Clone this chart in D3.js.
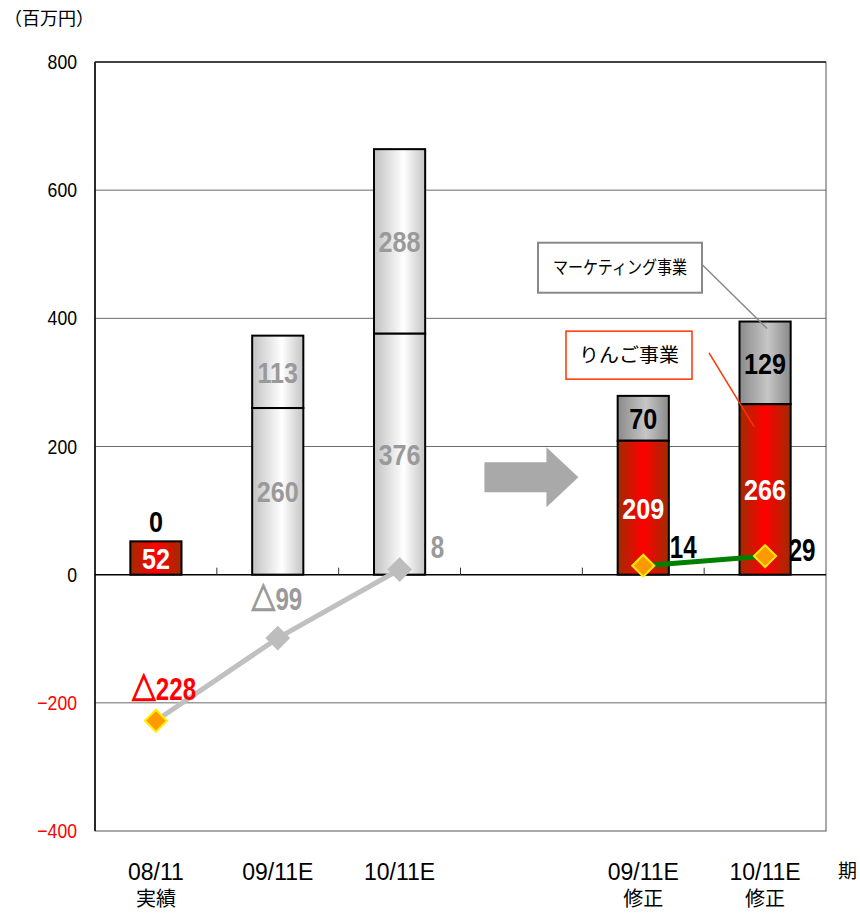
<!DOCTYPE html>
<html>
<head>
<meta charset="utf-8">
<script src="https://cdn.jsdelivr.net/npm/d3@7"></script>
<style>
  html, body { margin: 0; padding: 0; background: #fff; }
  svg { display: block; }
  .num { font-family: "Liberation Sans", Arial, sans-serif; }
  .jp { font-family: "Noto Sans CJK JP", sans-serif; }
</style>
</head>
<body>
<svg id="chart" width="860" height="914"></svg>
<script>
// Fiscal periods (slot 3 is an empty spacer before the revised forecasts)
const categories = ["08/11", "09/11E", "10/11E", "", "09/11E", "10/11E"];
const categoryNotes = ["実績", "", "", "", "修正", "修正"];
// Stacked segments: lower = りんご事業, upper = マーケティング事業
const appleValues = [52, 260, 376, null, 209, 266];
const marketingValues = [0, 113, 288, null, 70, 129];
// Operating profit line
const profitValues = [-228, -99, 8, null, 14, 29];
const profitLabels = ["△228", "△99", "8", "", "14", "29"];
// Bar look per period: actual result, original plan, revised forecast
const barKinds = ["actual", "plan", "plan", null, "revised", "revised"];
const yTicks = [-400, -200, 0, 200, 400, 600, 800];
const yTickLabels = ["−400", "−200", "0", "200", "400", "600", "800"];

const svg = d3.select("#chart");
const plotLeft = 95, plotRight = 826, plotTop = 62, plotBottom = 831;

const x = d3.scaleBand().domain(d3.range(categories.length)).range([plotLeft, plotRight]).padding(0);
const y = d3.scaleLinear().domain([-400, 800]).range([plotBottom, plotTop]);
const bw = x.bandwidth();
const barW = bw * 0.42;
const cx = i => x(i) + bw / 2;

// Condensed text: horizontally squeezed sans
function ntext(parent, px, py, str, o) {
  const fill = o.fill || "#000";
  const t = parent.append("text").attr("class", "num")
    .attr("transform", `translate(${px},${py}) scale(${o.sx || 0.8},1)`)
    .attr("text-anchor", o.anchor || "middle")
    .attr("font-weight", o.weight || "normal")
    .style("font-size", o.size + "px")
    .attr("fill", fill);
  if (str.startsWith("△")) {
    t.append("tspan").attr("class", "jp").attr("font-weight", "bold")
      .attr("stroke", fill).attr("stroke-width", 1.6).text("△");
    t.append("tspan").text(str.slice(1));
  } else {
    t.text(str);
  }
  return t;
}

// Gradients
const defs = svg.append("defs");
function grad(id, stops) {
  const g = defs.append("linearGradient").attr("id", id)
    .attr("x1", "0%").attr("x2", "100%").attr("y1", "0%").attr("y2", "0%");
  stops.forEach(([o, c]) => g.append("stop").attr("offset", o).attr("stop-color", c));
}
grad("gRed", [["0%", "#a02c00"], ["50%", "#ff0000"], ["100%", "#a02c00"]]);
grad("gLight", [["0%", "#c2c2c2"], ["58%", "#ffffff"], ["100%", "#c4c4c4"]]);
grad("gDark", [["0%", "#8a8a8a"], ["55%", "#c6c6c6"], ["100%", "#8a8a8a"]]);

// Gridlines
svg.append("g").selectAll("line")
  .data(yTicks.filter(t => t !== 0 && t !== 800 && t !== -400))
  .join("line")
  .attr("x1", plotLeft).attr("x2", plotRight)
  .attr("y1", d => y(d)).attr("y2", d => y(d))
  .attr("stroke", "#6a6a6a").attr("stroke-width", 1);

// Plot frame
svg.append("rect")
  .attr("x", plotLeft).attr("y", plotTop).attr("width", plotRight - plotLeft).attr("height", plotBottom - plotTop)
  .attr("fill", "none").attr("stroke", "#555").attr("stroke-width", 1);
svg.append("line").attr("x1", plotLeft).attr("x2", plotLeft).attr("y1", plotTop).attr("y2", plotBottom)
  .attr("stroke", "#000").attr("stroke-width", 1.5);
svg.append("line").attr("x1", plotLeft).attr("x2", plotRight).attr("y1", plotTop).attr("y2", plotTop)
  .attr("stroke", "#222").attr("stroke-width", 1.5);

// Y axis labels
const yg = svg.append("g");
yTicks.forEach((t, i) => {
  ntext(yg, plotLeft - 18, y(t) + 7, yTickLabels[i],
    { size: 21, sx: 0.84, anchor: "end", fill: t < 0 ? "#ff0000" : "#000" });
});

// Arrow pointing to the revised forecasts
const ax = cx(3), ay = y(152);
svg.append("polygon")
  .attr("points", [
    [ax - 37, ay - 15], [ax + 25, ay - 15], [ax + 25, ay - 30], [ax + 57, ay],
    [ax + 25, ay + 30], [ax + 25, ay + 15], [ax - 37, ay + 15]
  ].map(p => p.join(",")).join(" "))
  .attr("fill", "#a9a9a9");

// Stacked bars
const barG = svg.append("g");
const lowerFill = { actual: "url(#gRed)", plan: "url(#gLight)", revised: "url(#gRed)" };
const upperFill = { actual: "url(#gDark)", plan: "url(#gLight)", revised: "url(#gDark)" };
const lowerText = { actual: "#fff", plan: "#9a9a9a", revised: "#fff" };
const upperText = { actual: "#000", plan: "#9a9a9a", revised: "#000" };

categories.forEach((c, i) => {
  const kind = barKinds[i];
  if (!kind) return;
  const a = appleValues[i], m = marketingValues[i];
  const x0 = cx(i) - barW / 2;
  if (m > 0) {
    barG.append("rect")
      .attr("x", x0).attr("y", y(a + m)).attr("width", barW).attr("height", y(a) - y(a + m))
      .attr("fill", upperFill[kind]).attr("stroke", "#000").attr("stroke-width", 2);
  }
  barG.append("rect")
    .attr("x", x0).attr("y", y(a)).attr("width", barW).attr("height", y(0) - y(a))
    .attr("fill", lowerFill[kind]).attr("stroke", "#000").attr("stroke-width", 2);

  ntext(barG, cx(i), (y(0) + y(a)) / 2 + 11, String(a),
    { size: 30, sx: 0.84, weight: "bold", fill: lowerText[kind] });
  const upY = m > 0 ? (y(a) + y(a + m)) / 2 + 11 : y(a) - 9;
  ntext(barG, cx(i), upY, String(m),
    { size: 30, sx: 0.84, weight: "bold", fill: upperText[kind] });
});

// Zero line with small category ticks
svg.append("line").attr("x1", plotLeft).attr("x2", plotRight).attr("y1", y(0)).attr("y2", y(0))
  .attr("stroke", "#000").attr("stroke-width", 1.5);
svg.append("g").selectAll("line").data(d3.range(1, categories.length)).join("line")
  .attr("x1", i => x(i)).attr("x2", i => x(i))
  .attr("y1", y(0)).attr("y2", y(0) - 7)
  .attr("stroke", "#333").attr("stroke-width", 1);

// Profit lines: original plan (gray) and revised forecast (green)
const line = d3.line().x(i => cx(i)).y(i => y(profitValues[i]));
svg.append("path").attr("d", line([0, 1, 2]))
  .attr("fill", "none").attr("stroke", "#c0c0c0").attr("stroke-width", 5);
svg.append("path").attr("d", line([4, 5]))
  .attr("fill", "none").attr("stroke", "#008000").attr("stroke-width", 5);

// Markers
const dsz = 11;
const markerStyle = ["orange", "gray", "gray", null, "orange", "orange"];
profitValues.forEach((v, i) => {
  if (v === null) return;
  const px = cx(i), py = y(v);
  const orange = markerStyle[i] === "orange";
  svg.append("polygon")
    .attr("points", [[px, py - dsz], [px + dsz, py], [px, py + dsz], [px - dsz, py]].map(p => p.join(",")).join(" "))
    .attr("fill", orange ? "#ff9900" : "#bdbdbd")
    .attr("stroke", orange ? "#ffee00" : "#bdbdbd").attr("stroke-width", 2);
});

// Profit value labels
const labelColors = ["#ff0000", "#9a9a9a", "#9a9a9a", null, "#000", "#000"];
const labelOffsets = [[8, -21], [-1, -28], [38, -12], null, [40, -8], [37, 5]];
const labelG = svg.append("g");
profitValues.forEach((v, i) => {
  if (v === null) return;
  const [dx, dy] = labelOffsets[i];
  ntext(labelG, cx(i) + dx, y(v) + dy, profitLabels[i],
    { size: 31, sx: 0.78, weight: "bold", fill: labelColors[i] });
});

// Callouts
function callout(bx, by, w, h, stroke, sw, label, lx1, ly1, lx2, ly2, fs, tl) {
  svg.append("line").attr("x1", lx1).attr("y1", ly1).attr("x2", lx2).attr("y2", ly2)
    .attr("stroke", stroke).attr("stroke-width", 1.5);
  svg.append("rect").attr("x", bx).attr("y", by).attr("width", w).attr("height", h)
    .attr("fill", "#fff").attr("stroke", stroke).attr("stroke-width", sw);
  svg.append("text").attr("class", "jp")
    .attr("x", bx + w / 2).attr("y", by + h / 2 + fs * 0.36)
    .attr("text-anchor", "middle").style("font-size", fs + "px")
    .attr("textLength", tl).attr("lengthAdjust", "spacingAndGlyphs")
    .text(label);
}
callout(538, y(518), 164, 50, "#888", 2, "マーケティング事業",
  702, y(484), cx(5) + 2, y(384), 18, 134);
callout(566, y(380), 126, 48, "#ff3300", 1.5, "りんご事業",
  709, y(346), cx(5) - 11, y(231), 19, 100);

// Category labels
const catG = svg.append("g");
categories.forEach((c, i) => {
  if (!c) return;
  ntext(catG, cx(i), 880, c, { size: 23, sx: 1 });
  if (categoryNotes[i]) {
    catG.append("text").attr("class", "jp")
      .attr("x", cx(i)).attr("y", 906).attr("text-anchor", "middle")
      .style("font-size", "20px").attr("fill", "#000").text(categoryNotes[i]);
  }
});
svg.append("text").attr("class", "jp").attr("x", 838).attr("y", 878)
  .style("font-size", "19px").text("期");

// Unit
svg.append("text").attr("class", "jp").attr("x", 4).attr("y", 25)
  .style("font-size", "18px").text("（百万円）");
</script>
</body>
</html>
